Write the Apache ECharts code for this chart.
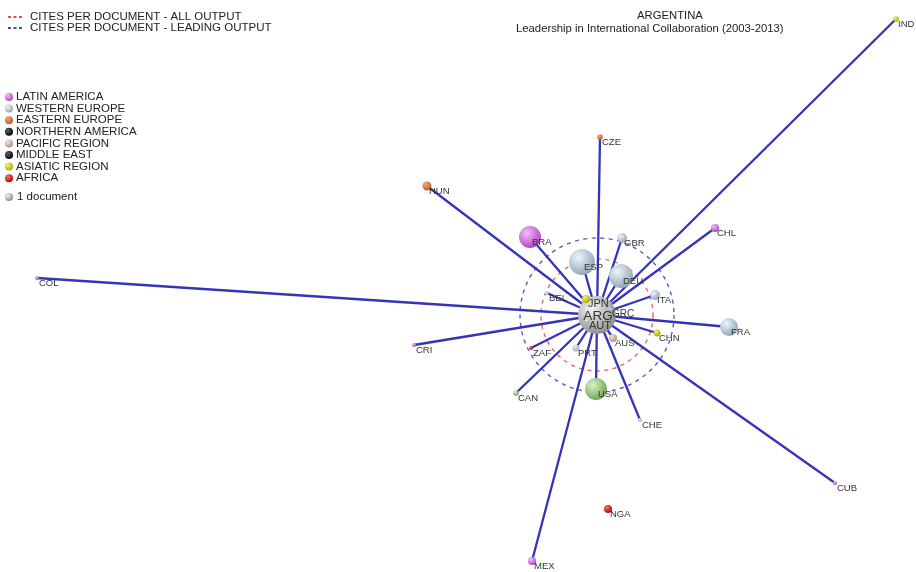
<!DOCTYPE html>
<html>
<head>
<meta charset="utf-8">
<style>
html,body{margin:0;padding:0;background:#fff;}
#chart{width:916px;height:572px;}
</style>
<script src="https://cdn.jsdelivr.net/npm/echarts@6/dist/echarts.min.js"></script>
</head>
<body>
<div id="chart"></div>
<script>
// ---- data ----
const regions = ['LATIN AMERICA','WESTERN EUROPE','EASTERN EUROPE','NORTHERN AMERICA','PACIFIC REGION','MIDDLE EAST','ASIATIC REGION','AFRICA'];
const countries = ['ARG','ESP','DEU','BRA','USA','FRA','GBR','ITA','HUN','CHL','JPN','AUS','MEX','NGA','CHN','PRT','CAN','CZE','IND','BEL','COL','CRI','ZAF','CUB','CHE','GRC','AUT'];
const countryRegion = [0,1,1,0,3,1,1,1,2,0,6,4,0,7,6,1,3,2,6,1,0,0,7,0,1,1,1];
const documents = [90,42,36,30,30,20,6,6,5,4,4,4,4,4,3,3,2,2,2,1,1,1,1,1,1,0.6,1];
// layout coordinates of the network (x to the right, y downward)
const layoutX = [597,582,621,530,596,729,622,655,427,715,586,613,532,608,657,576,516,600,896,547,37,414,531,835,640,610,587];
const layoutY = [315,262,276,237,389,327,238,295,186,228,299,338,561,509,333,348,393,137,19,293,278,345,348,483,420,309,321];
const collaborates = ['ESP','DEU','BRA','USA','FRA','GBR','ITA','HUN','CHL','JPN','AUS','MEX','CHN','PRT','CAN','CZE','IND','BEL','COL','CRI','ZAF','CUB','CHE','GRC','AUT'];
// cites per document reference circles (radius in layout units)
const citesAll = 56;
const citesLeading = 77;

// ---- styles ----
const regionBase  = ['#b040c0','#8ea5b8','#b85a2a','#000000','#b09282','#000000','#a8a800','#b80000'];
const regionLight = ['#f4c0f8','#eef4f8','#f4a878','#606060','#f4e2d6','#606060','#f4f470','#ff7070'];
function sphere(base, light){
  return {type:'radial', x:0.36, y:0.32, r:0.72, colorStops:[{offset:0,color:light},{offset:1,color:base}]};
}
const overrides = {
  ARG: sphere('#8c8c8c','#f6f6f6'),
  USA: sphere('#6f9f55','#d8f4c4'),
  CAN: sphere('#6f9f55','#d8f4c4')
};
const labelFont = {ARG:13, JPN:11, AUT:11, GRC:10};

const nodes = countries.map((c,i)=>{
  const n = {
    name:c, value:[layoutX[i], layoutY[i]], category:countryRegion[i],
    symbolSize: 4*Math.sqrt(documents[i]),
    label:{show:true, position:'inside', align:'left', verticalAlign:'middle', offset:[2,5],
           fontSize: labelFont[c]||9.5, color:'#333'}
  };
  if (c==='ARG') n.label = {show:true, position:'inside', align:'center', verticalAlign:'middle', offset:[1,1], fontSize:13.5, color:'#333'};
  if (overrides[c]) n.itemStyle = {color: overrides[c]};
  return n;
});
const links = collaborates.map(t=>({source:'ARG', target:t}));
const cats = regions.map((r,i)=>({name:r, itemStyle:{color:sphere(regionBase[i], regionLight[i])}}));

const chart = echarts.init(document.getElementById('chart'), null, {renderer:'canvas'});
const FONT = '"Liberation Sans", Arial, sans-serif';
chart.setOption({
  animation:false,
  backgroundColor:'#fff',
  textStyle:{fontFamily:FONT},
  title:[
    {text:'ARGENTINA', left:632, top:5, textStyle:{fontSize:11.3, fontWeight:'normal', color:'#222', fontFamily:FONT}},
    {text:'Leadership in International Collaboration (2003-2013)', left:511, top:18, textStyle:{fontSize:11.3, fontWeight:'normal', color:'#222', fontFamily:FONT}}
  ],
  legend:{
    orient:'vertical', left:5, top:91, padding:0, itemGap:-0.4, itemWidth:8, itemHeight:8,
    icon:'circle', selectedMode:false,
    data:regions,
    textStyle:{fontSize:11.5, color:'#222', padding:[0,0,0,-2], fontFamily:FONT}
  },
  grid:{left:0, right:0, top:0, bottom:0},
  xAxis:{type:'value', min:0, max:916, show:false},
  yAxis:{type:'value', min:0, max:572, inverse:true, show:false},
  graphic:[
    {type:'line', shape:{x1:8,y1:17,x2:23,y2:17}, style:{stroke:'#e05050', lineWidth:2, lineDash:[3,2.5]}},
    {type:'text', left:30, top:11, style:{text:'CITES PER DOCUMENT - ALL OUTPUT', fill:'#222', font:'11.5px "Liberation Sans", Arial'}},
    {type:'line', shape:{x1:8,y1:28,x2:23,y2:28}, style:{stroke:'#4848c0', lineWidth:2, lineDash:[3,2.5]}},
    {type:'text', left:30, top:22, style:{text:'CITES PER DOCUMENT - LEADING OUTPUT', fill:'#222', font:'11.5px "Liberation Sans", Arial'}},
    {type:'circle', shape:{cx:9, cy:197, r:4}, style:{fill:sphere('#8c8c8c','#f0f0f0')}},
    {type:'text', left:17, top:191, style:{text:'1 document', fill:'#222', font:'11.5px "Liberation Sans", Arial'}}
  ],
  series:[
    {
      type:'custom', coordinateSystem:'cartesian2d', silent:true, z:1,
      data:[[layoutX[0], layoutY[0], citesAll, 0],[layoutX[0], layoutY[0], citesLeading, 1]],
      renderItem:function(params, api){
        const c = api.coord([api.value(0), api.value(1)]);
        const r = api.size([api.value(2), 0])[0];
        const blue = api.value(3) === 1;
        return {type:'circle', shape:{cx:c[0], cy:c[1], r:r},
          style:{fill:'none', stroke: blue ? '#5a5ac8' : '#e06a6a', lineWidth:1.4, lineDash:[4,4.5]}};
      }
    },
    {
      type:'graph', coordinateSystem:'cartesian2d', z:2,
      categories:cats,
      data:nodes,
      links:links,
      symbol:'circle',
      lineStyle:{color:'#3434b8', width:2.3, opacity:1, curveness:0},
      emphasis:{disabled:true},
      silent:true
    }
  ]
});
</script>
</body>
</html>
